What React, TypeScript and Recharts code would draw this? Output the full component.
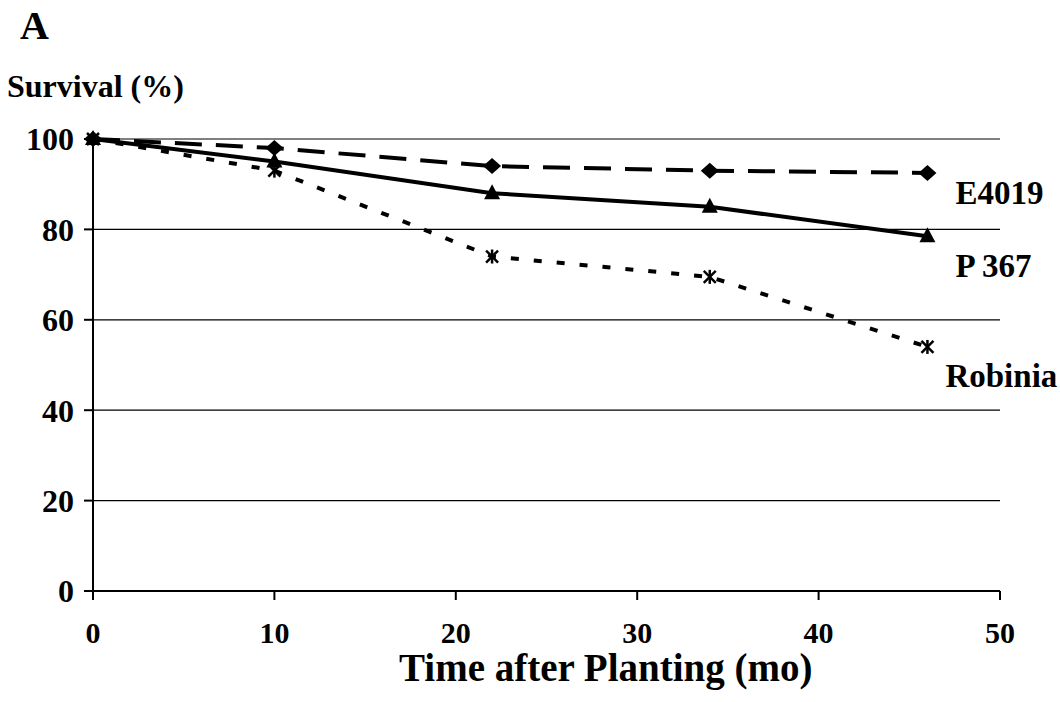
import React from 'react';
import { LineChart, Line, XAxis, YAxis, CartesianGrid } from 'recharts';

// months after planting
const months = [0, 10, 22, 34, 46];
const e4019 = [100, 98, 94, 93, 92.5];
const p367 = [100, 95, 88, 85, 78.5];
const robinia = [100, 93, 74, 69.5, 54];
const xTicks = [0, 10, 20, 30, 40, 50];
const yTicks = [0, 20, 40, 60, 80, 100];

const FONT = "'Liberation Serif', 'Times New Roman', Times, serif";

const data = months.map((m, i) => ({
  month: m,
  e4019: e4019[i],
  p367: p367[i],
  robinia: robinia[i],
}));

const Diamond = (props: any) => {
  const { cx, cy, index } = props;
  return (
    <polygon
      key={`d-${index}`}
      points={`${cx},${cy - 8} ${cx + 9},${cy} ${cx},${cy + 8} ${cx - 9},${cy}`}
      fill="#000"
    />
  );
};

const Triangle = (props: any) => {
  const { cx, cy, index } = props;
  return (
    <polygon
      key={`t-${index}`}
      points={`${cx},${cy - 9} ${cx + 8},${cy + 6} ${cx - 8},${cy + 6}`}
      fill="#000"
    />
  );
};

const Star = (props: any) => {
  const { cx, cy, index } = props;
  return (
    <g key={`s-${index}`} stroke="#000" strokeWidth={2.5}>
      <line x1={cx} y1={cy - 7} x2={cx} y2={cy + 7} />
      <line x1={cx - 6} y1={cy - 6} x2={cx + 6} y2={cy + 6} />
      <line x1={cx - 6} y1={cy + 6} x2={cx + 6} y2={cy - 6} />
    </g>
  );
};

// name label drawn next to the last point of a series
const endLabel = (text: string, dx: number, dy: number) => (props: any) => {
  const { x, y, index } = props;
  if (index !== months.length - 1) return null;
  return (
    <text
      x={x + dx}
      y={y + dy}
      fontFamily={FONT}
      fontWeight="bold"
      fontSize={33}
      fill="#000"
    >
      {text}
    </text>
  );
};

const tickStyle = { fontFamily: FONT, fontWeight: 'bold' as const, fontSize: 32, fill: '#000' };
const xTickStyle = { ...tickStyle, fontSize: 30 };

export default function App() {
  return (
    <div style={{ position: 'absolute', left: 0, top: 0, width: 1060, height: 702, background: '#fff' }}>
      <LineChart
        width={1060}
        height={702}
        data={data}
        margin={{ top: 139, right: 60, left: 13, bottom: 21 }}
      >
        <CartesianGrid vertical={false} stroke="#000" strokeWidth={1.2} />
        <XAxis
          dataKey="month"
          type="number"
          domain={[0, 50]}
          ticks={xTicks}
          interval={0}
          height={90}
          tickSize={9}
          tickMargin={22}
          axisLine={{ stroke: '#000', strokeWidth: 2 }}
          tickLine={{ stroke: '#000', strokeWidth: 2 }}
          tick={xTickStyle}
        />
        <YAxis
          type="number"
          domain={[0, 100]}
          ticks={yTicks}
          interval={0}
          width={80}
          tickSize={9}
          tickMargin={10}
          axisLine={{ stroke: '#000', strokeWidth: 2 }}
          tickLine={{ stroke: '#000', strokeWidth: 2 }}
          tick={tickStyle}
        />
        <Line
          dataKey="robinia"
          stroke="#000"
          strokeWidth={4}
          strokeDasharray="8 15"
          dot={Star}
          activeDot={false}
          label={endLabel('Robinia', 18, 40)}
          isAnimationActive={false}
        />
        <Line
          dataKey="p367"
          stroke="#000"
          strokeWidth={4}
          dot={Triangle}
          activeDot={false}
          label={endLabel('P 367', 28, 41)}
          isAnimationActive={false}
        />
        <Line
          dataKey="e4019"
          stroke="#000"
          strokeWidth={4}
          strokeDasharray="27 14"
          dot={Diamond}
          activeDot={false}
          label={endLabel('E4019', 28, 31)}
          isAnimationActive={false}
        />
      </LineChart>
      <svg
        width={1060}
        height={702}
        style={{ position: 'absolute', left: 0, top: 0, pointerEvents: 'none' }}
      >
        <text x={20} y={39} fontFamily={FONT} fontWeight="bold" fontSize={40} fill="#000">
          A
        </text>
        <text x={7} y={97} fontFamily={FONT} fontWeight="bold" fontSize={32} fill="#000">
          Survival (%)
        </text>
        <text x={399} y={681} fontFamily={FONT} fontWeight="bold" fontSize={39} fill="#000">
          Time after Planting (mo)
        </text>
      </svg>
    </div>
  );
}
